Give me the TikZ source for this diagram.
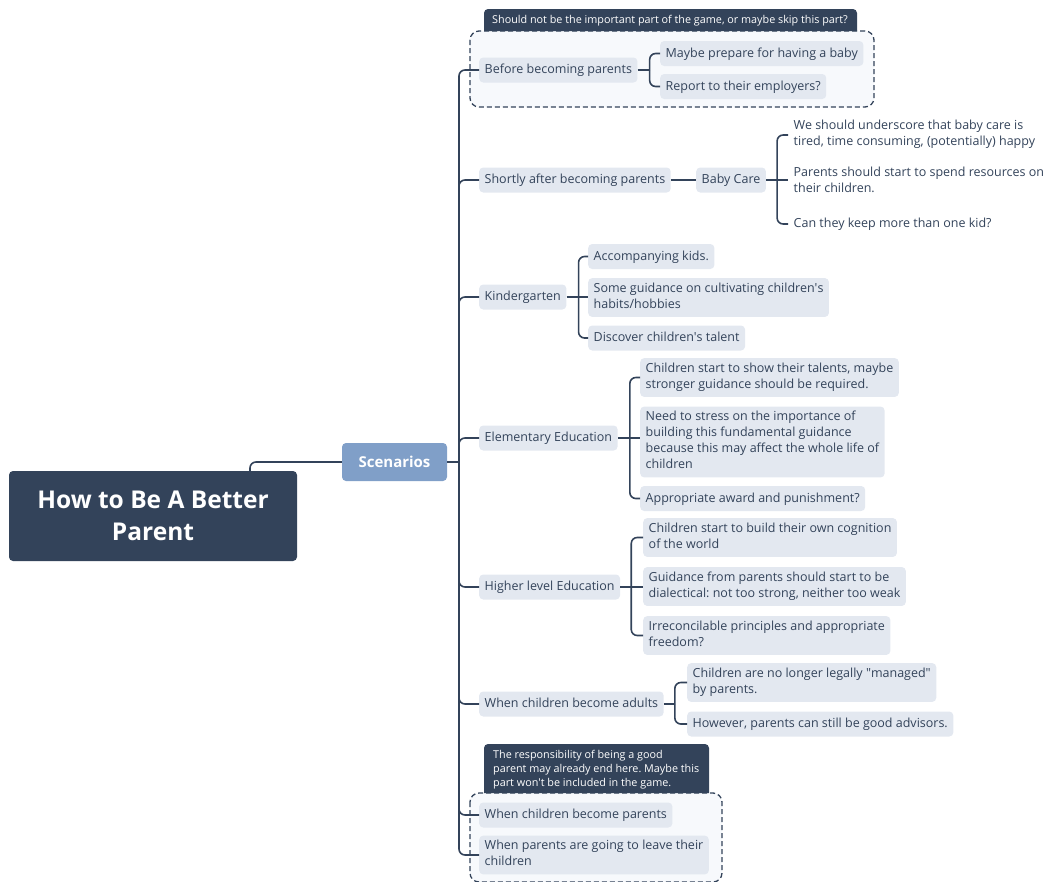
\documentclass[tikz,border=0pt]{standalone}
\usepackage{fontspec}
\setmainfont{Open Sans}
\frenchspacing
\definecolor{ink}{HTML}{33435A}
\definecolor{soft}{HTML}{E3E8F0}
\definecolor{scen}{HTML}{809FC8}
\definecolor{zone}{HTML}{F7F9FC}
\newcommand{\bodyfont}{\fontsize{12.5}{16}\selectfont}
\newcommand{\tabfont}{\fontsize{10.8}{14}\selectfont}
\newcommand{\linestrut}{\rule[-4.3pt]{0pt}{16pt}}
\newcommand{\q}{\textquotesingle}
\tikzset{
  link/.style={draw=ink, line width=1.6pt, rounded corners=6pt},
  topic/.style={fill=soft, rounded corners=4pt, text=ink, font=\bodyfont,
    align=left, inner xsep=5.5pt, inner ysep=4.5pt, anchor=west,
    execute at begin node=\linestrut, execute at end node=\linestrut},
  plaintopic/.style={topic, fill=none},
  zonebox/.style={draw=ink, fill=zone, line width=1.3pt, dash pattern=on 5pt off 3pt, rounded corners=9pt},
  tabtext/.style={text=white, font=\tabfont, align=left, anchor=west, inner sep=0pt},
}
\begin{document}
\begin{tikzpicture}[x=1pt,y=-1pt]
\useasboundingbox (0,0) rectangle (1044,881);

% boundary zones with their caption tabs
\draw[zonebox] (470,31) rectangle (874,107);
\fill[ink] (484,31) [rounded corners=4pt] -- (484,9) -- (857,9) [sharp corners] -- (857,31) -- cycle;
\node[tabtext] (tabA) at (492,20.5) {Should not be the important part of the game, or maybe skip this part?};

\draw[zonebox] (470,793) rectangle (722,882);
\fill[ink] (484,793) [rounded corners=4pt] -- (484,744) -- (709,744) [sharp corners] -- (709,793) -- cycle;
\node[tabtext] (tabB) at (493,770) {The responsibility of being a good\\parent may already end here. Maybe this\\part won\q t be included in the game.};

% central topic and main branch
\node[fill=ink, text=white, rounded corners=4pt, minimum width=288pt, minimum height=90pt,
      font=\fontsize{24.5}{32}\selectfont\bfseries, align=center] (root) at (153,516) {How to Be A Better\\Parent};
\node[fill=scen, text=white, rounded corners=4pt, minimum width=105pt, minimum height=38pt,
      font=\fontsize{15}{18}\selectfont\bfseries] (scen) at (394.5,462) {Scenarios};
\coordinate (hub) at (459,462);

% level one topics
\node[topic] (before) at (479,70) {Before becoming parents};
\node[topic] (shortly) at (479,180) {Shortly after becoming parents};
\node[topic] (kinder) at (479,297) {Kindergarten};
\node[topic] (elem) at (479,438) {Elementary Education};
\node[topic] (higher) at (479,587) {Higher level Education};
\node[topic] (adults) at (479,704) {When children become adults};
\node[topic] (cparents) at (479,815) {When children become parents};
\node[topic] (leave) at (479,855) {When parents are going to leave their\\children};

% level two topics
\node[topic] (b1) at (660,53.5) {Maybe prepare for having a baby};
\node[topic] (b2) at (660,86.5) {Report to their employers?};

\node[topic] (care) at (696,180) {Baby Care};
\node[plaintopic] (c1) at (788,135) {We should underscore that baby care is\\tired, time consuming, (potentially) happy};
\node[plaintopic] (c2) at (788,182) {Parents should start to spend resources on\\their children.};
\node[plaintopic] (c3) at (788,224) {Can they keep more than one kid?};

\node[topic] (k1) at (588,256.5) {Accompanying kids.};
\node[topic] (k2) at (588,297.5) {Some guidance on cultivating children\q s\\habits/hobbies};
\node[topic] (k3) at (588,338) {Discover children\q s talent};

\node[topic] (e1) at (640,377.5) {Children start to show their talents, maybe\\stronger guidance should be required.};
\node[topic] (e2) at (640,442) {Need to stress on the importance of\\building this fundamental guidance\\because this may affect the whole life of\\children};
\node[topic] (e3) at (640,498.5) {Appropriate award and punishment?};

\node[topic] (h1) at (643,537.5) {Children start to build their own cognition\\of the world};
\node[topic] (h2) at (643,586.5) {Guidance from parents should start to be\\dialectical: not too strong, neither too weak};
\node[topic] (h3) at (643,635.5) {Irreconcilable principles and appropriate\\freedom?};

\node[topic] (a1) at (687,682.5) {Children are no longer legally \textquotedbl managed\textquotedbl\\by parents.};
\node[topic] (a2) at (687,724) {However, parents can still be good advisors.};

% connectors
\draw[link] ([xshift=97pt]root.north) |- (scen.west);
\draw[link] (scen.east) -- (hub);
\foreach \n in {before,shortly,kinder,elem,higher,adults,cparents,leave}
  \draw[link] (hub) |- (\n.west);

\draw[link] (before.east) -- ++(12,0) coordinate (jb);
\foreach \n in {b1,b2} \draw[link] (jb) |- (\n.west);

\draw[link] (shortly.east) -- (care.west);
\draw[link] (care.east) -- ++(11,0) coordinate (jc);
\foreach \n in {c1,c3} \draw[link] (jc) |- (\n.west);
\draw[link] (jc) -- (c2.west |- jc);

\draw[link] (kinder.east) -- ++(12,0) coordinate (jk);
\foreach \n in {k1,k3} \draw[link] (jk) |- (\n.west);
\draw[link] (jk) -- (k2.west |- jk);

\draw[link] (elem.east) -- ++(12,0) coordinate (je);
\foreach \n in {e1,e3} \draw[link] (je) |- (\n.west);
\draw[link] (je) -- (e2.west |- je);

\draw[link] (higher.east) -- ++(11,0) coordinate (jh);
\foreach \n in {h1,h3} \draw[link] (jh) |- (\n.west);
\draw[link] (jh) -- (h2.west |- jh);

\draw[link] (adults.east) -- ++(11,0) coordinate (ja);
\foreach \n in {a1,a2} \draw[link] (ja) |- (\n.west);
\end{tikzpicture}
\end{document}
